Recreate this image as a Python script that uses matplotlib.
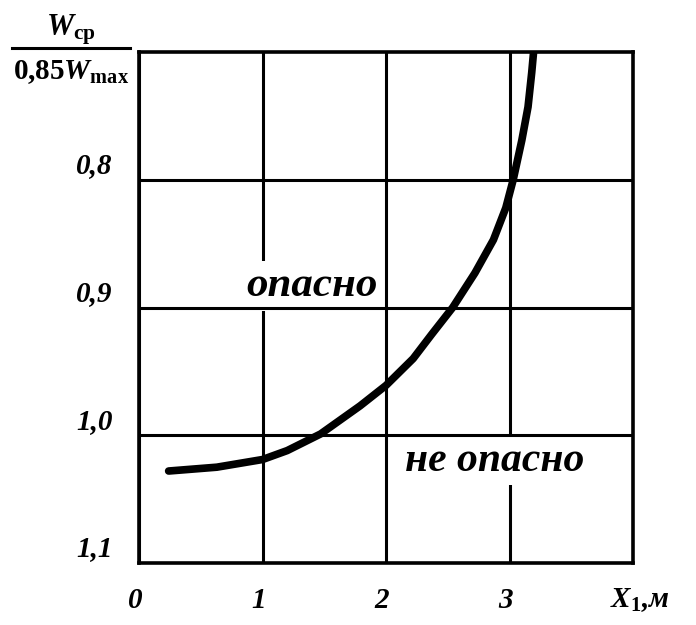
"""Danger boundary curve: W_cp / 0.85 W_max versus X1."""

import matplotlib.pyplot as plt
from matplotlib.transforms import ScaledTranslation

# curve
x_m = [0.24, 0.63, 1.0, 1.2, 1.47, 1.79, 2.0, 2.22, 2.37, 2.54,
       2.72, 2.87, 2.97, 3.03, 3.10, 3.15, 3.18, 3.195]
ratio = [1.028, 1.025, 1.019, 1.012, 0.999, 0.977, 0.961, 0.940, 0.921, 0.9,
         0.873, 0.847, 0.822, 0.80, 0.769, 0.743, 0.716, 0.70]

x_ticks = [0, 1, 2, 3, 4]
x_labels = ["0", "1", "2", "3", "$X_1$,м"]
y_ticks = [0.8, 0.9, 1.0, 1.1]
y_labels = ["0,8", "0,9", "1,0", "1,1"]

plt.rcParams["font.family"] = "Liberation Serif"
plt.rcParams["mathtext.fontset"] = "custom"
plt.rcParams["mathtext.rm"] = "Liberation Serif:bold"
plt.rcParams["mathtext.it"] = "Liberation Serif:bold:italic"

fig = plt.figure(figsize=(6.96, 6.25), dpi=100)
ax = fig.add_axes([139 / 696, 1 - 563 / 625, 494 / 696, 511 / 625])

ax.set_xlim(0, 4)
ax.set_ylim(1.1, 0.7)
ax.set_xticks(x_ticks)
ax.set_xticklabels(x_labels)
ax.set_yticks(y_ticks)
ax.set_yticklabels(y_labels)
ax.tick_params(length=0, labelsize=21)
ax.tick_params(axis="y", pad=19)
ax.tick_params(axis="x", pad=22)
for lbl in ax.get_xticklabels() + ax.get_yticklabels():
    lbl.set_fontweight("bold")
    lbl.set_fontstyle("italic")
for lbl in ax.get_yticklabels():
    lbl.set_transform(lbl.get_transform() + ScaledTranslation(0, 0.17, fig.dpi_scale_trans))
for lbl in ax.get_xticklabels()[:4]:
    lbl.set_transform(lbl.get_transform() + ScaledTranslation(-0.04, 0.07, fig.dpi_scale_trans))
last = ax.get_xticklabels()[4]
last.set_transform(last.get_transform() + ScaledTranslation(0.07, 0.07, fig.dpi_scale_trans))

# vertical grid lines sit under the text patches, horizontal ones run over them
ax.grid(True, axis="x", color="black", linewidth=2.2)
ax.set_axisbelow(True)
for yv in y_ticks[:-1]:
    ax.axhline(yv, color="black", linewidth=2.2, zorder=5)
for sp in ax.spines.values():
    sp.set_linewidth(2.6)
    sp.set_zorder(6)

ax.plot(x_m, ratio, color="black", linewidth=5.5, solid_capstyle="round",
        solid_joinstyle="round", zorder=3)

box = {"facecolor": "white", "edgecolor": "none", "pad": 4}
ax.text(0.35, 0.542, "опасно", transform=ax.transAxes, ha="center", va="center",
        fontsize=31, fontweight="bold", fontstyle="italic", bbox=box, zorder=4)
ax.text(0.72, 0.2, "не опасно", transform=ax.transAxes, ha="center", va="center",
        fontsize=30, fontweight="bold", fontstyle="italic", bbox=box, zorder=4)

# y-axis caption as a fraction
fig.text(71 / 696, 1 - 30 / 625, r"$W_{\mathrm{ср}}$", ha="center", va="center",
         fontsize=22, fontweight="bold")
fig.add_artist(plt.Line2D([12 / 696, 130 / 696], [1 - 48 / 625, 1 - 48 / 625],
                          color="black", linewidth=2.2))
fig.text(71 / 696, 1 - 72 / 625, r"0,85$W_{\mathrm{max}}$", ha="center", va="center",
         fontsize=21, fontweight="bold")

fig.savefig("out.png", dpi=100)
